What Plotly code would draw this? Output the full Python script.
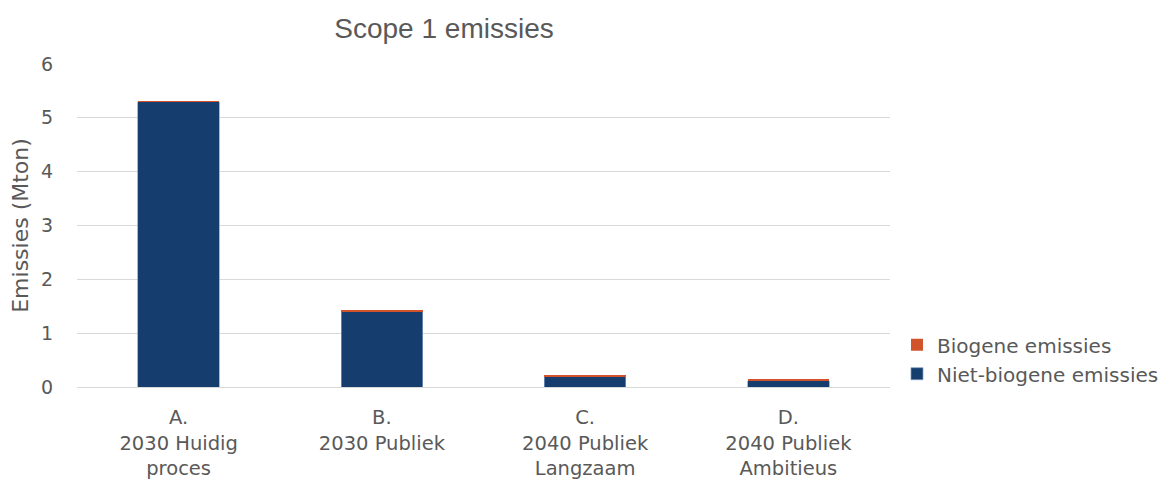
import plotly.graph_objects as go

categories = ["A.<br>2030 Huidig<br>proces", "B.<br>2030 Publiek", "C.<br>2040 Publiek<br>Langzaam", "D.<br>2040 Publiek<br>Ambitieus"]
niet_biogeen = [5.30, 1.41, 0.19, 0.12]
biogeen = [0.01, 0.02, 0.02, 0.03]
y_ticks = [0, 1, 2, 3, 4, 5, 6]

NAVY = "#153e6e"
ORANGE = "#d1532b"
TEXT = "#595959"
FONT = "DejaVu Sans"

fig = go.Figure()
fig.add_trace(go.Bar(
    x=categories, y=niet_biogeen, name="Niet-biogene emissies",
    marker=dict(color=NAVY, line=dict(color="#7f9cc0", width=0.7)),
    width=0.4,
))
fig.add_trace(go.Bar(
    x=categories, y=biogeen, name="Biogene emissies",
    marker=dict(color=ORANGE, line=dict(width=0)),
    width=0.4,
))

fig.update_layout(
    barmode="stack",
    width=1171, height=484,
    margin=dict(l=67, r=289, t=56, b=104),
    paper_bgcolor="white", plot_bgcolor="white",
    font=dict(family=FONT, color=TEXT, size=19),
    title=dict(text="Scope 1 emissies", x=436/1171, xanchor="center",
               y=1 - 20/484, yanchor="middle",
               font=dict(family="Liberation Sans", size=28, color=TEXT)),
    legend=dict(x=1.0086, xanchor="left", y=0.086, yanchor="middle",
                traceorder="reversed",
                font=dict(family=FONT, size=20, color=TEXT),
                itemwidth=30, tracegroupgap=0),
    showlegend=True,
)
fig.update_xaxes(showgrid=False, showline=True, linecolor="#d9d9d9", linewidth=1,
                 tickfont=dict(family=FONT, size=19.5, color=TEXT),
                 ticks="outside", ticklen=13, tickcolor="rgba(0,0,0,0)")
fig.update_yaxes(range=[0, 6], tickvals=y_ticks, showgrid=True, gridcolor="#d9d9d9",
                 gridwidth=1, zeroline=False, showline=False,
                 tickfont=dict(family=FONT, size=19, color=TEXT),
                 title=dict(text="Emissies (Mton)", font=dict(family=FONT, size=22, color=TEXT), standoff=6),
                 ticks="outside", ticklen=19, tickcolor="rgba(0,0,0,0)")

fig.write_html("out.html")
